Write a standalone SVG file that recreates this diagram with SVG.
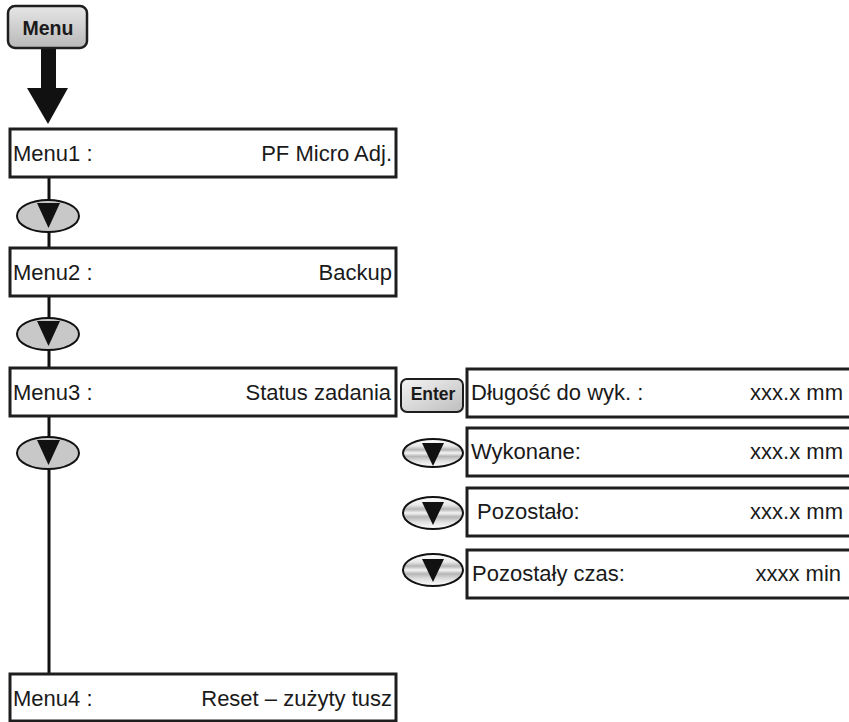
<svg xmlns="http://www.w3.org/2000/svg" width="849" height="722" viewBox="0 0 849 722">
<style>
.box{fill:#fff;stroke:#1e1e1e;stroke-width:3}
.t{font-family:"Liberation Sans",Arial,sans-serif;font-size:22px;fill:#1a1a1a}
.r{text-anchor:end}
.btn{font-family:"Liberation Sans",Arial,sans-serif;font-weight:bold;fill:#1a1a1a;text-anchor:middle}
.ell{fill:#c8c8c8;stroke:#111;stroke-width:2}
.ell2{fill:url(#stripe);stroke:#111;stroke-width:2}
.tri{fill:#111}
.conn{stroke:#111;stroke-width:3;fill:none}
</style>
<defs>
<linearGradient id="btng" x1="0" y1="0" x2="0" y2="1">
<stop offset="0" stop-color="#e6e6e6"/><stop offset="1" stop-color="#b8b8b8"/>
</linearGradient>
<linearGradient id="entg" x1="0" y1="0" x2="1" y2="1">
<stop offset="0" stop-color="#f4f4f4"/><stop offset="1" stop-color="#bdbdbd"/>
</linearGradient>
<linearGradient id="stripe" x1="0" y1="0" x2="0" y2="1">
<stop offset="0" stop-color="#ffffff"/>
<stop offset="0.25" stop-color="#e8e8e8"/>
<stop offset="0.38" stop-color="#b5b5b5"/>
<stop offset="0.5" stop-color="#f4f4f4"/>
<stop offset="0.62" stop-color="#b5b5b5"/>
<stop offset="0.78" stop-color="#e0e0e0"/>
<stop offset="1" stop-color="#ffffff"/>
</linearGradient>
</defs>

<g id="connectors">
<rect x="41" y="48" width="15" height="41" fill="#111"/>
<polygon points="27,88 68,88 48,124" fill="#111"/>
<line class="conn" x1="49" y1="178" x2="49" y2="200"/>
<line class="conn" x1="49" y1="232" x2="49" y2="248"/>
<line class="conn" x1="49" y1="297" x2="49" y2="318"/>
<line class="conn" x1="49" y1="350" x2="49" y2="368"/>
<line class="conn" x1="49" y1="417" x2="49" y2="437"/>
<line class="conn" x1="49" y1="469" x2="49" y2="674"/>
</g>

<g id="menu-button">
<rect x="8" y="6" width="79" height="42" rx="7" fill="url(#btng)" stroke="#1e1e1e" stroke-width="2.5"/>
<text class="btn" x="48" y="35" font-size="19.5">Menu</text>
</g>

<g id="menu1">
<rect class="box" x="10" y="129" width="386" height="48"/>
<text class="t" x="13" y="161">Menu1 :</text>
<text class="t r" x="392" y="161">PF Micro Adj.</text>
</g>

<g id="down1">
<ellipse class="ell" cx="48" cy="216" rx="31" ry="16"/>
<polygon class="tri" points="37,203 60,203 48.5,228"/>
</g>

<g id="menu2">
<rect class="box" x="10" y="248" width="386" height="48"/>
<text class="t" x="13" y="280">Menu2 :</text>
<text class="t r" x="392" y="280">Backup</text>
</g>

<g id="down2">
<ellipse class="ell" cx="48" cy="334" rx="31" ry="16"/>
<polygon class="tri" points="37,321 60,321 48.5,346"/>
</g>

<g id="menu3">
<rect class="box" x="10" y="368" width="386" height="48"/>
<text class="t" x="13" y="400">Menu3 :</text>
<text class="t r" x="391" y="400">Status zadania</text>
</g>

<g id="down3">
<ellipse class="ell" cx="48" cy="453" rx="31" ry="16"/>
<polygon class="tri" points="37,440 60,440 48.5,465"/>
</g>

<g id="menu4">
<rect class="box" x="10" y="674" width="386" height="47"/>
<text class="t" x="13" y="706">Menu4 :</text>
<text class="t r" x="392" y="706">Reset – zużyty tusz</text>
</g>

<g id="enter-button">
<rect x="401" y="379" width="62" height="33" rx="6" fill="url(#entg)" stroke="#1e1e1e" stroke-width="2"/>
<text class="btn" x="433" y="400" font-size="17.5">Enter</text>
</g>

<g id="sub1">
<rect class="box" x="467" y="369" width="400" height="48"/>
<text class="t" x="471" y="400">Długość do wyk. :</text>
<text class="t r" x="843" y="400">xxx.x mm</text>
</g>

<g id="down-sub1">
<ellipse class="ell2" cx="433" cy="453" rx="30" ry="14"/>
<polygon class="tri" points="422,443 444,443 433,466"/>
</g>

<g id="sub2">
<rect class="box" x="467" y="428" width="400" height="48"/>
<text class="t" x="471" y="459">Wykonane:</text>
<text class="t r" x="843" y="459">xxx.x mm</text>
</g>

<g id="down-sub2">
<ellipse class="ell2" cx="433" cy="513" rx="30" ry="16"/>
<polygon class="tri" points="422,502 444,502 433,525"/>
</g>

<g id="sub3">
<rect class="box" x="467" y="488" width="400" height="48"/>
<text class="t" x="477" y="519">Pozostało:</text>
<text class="t r" x="843" y="519">xxx.x mm</text>
</g>

<g id="down-sub3">
<ellipse class="ell2" cx="433" cy="570" rx="30" ry="16"/>
<polygon class="tri" points="422,559 444,559 433,582"/>
</g>

<g id="sub4">
<rect class="box" x="467" y="550" width="400" height="48"/>
<text class="t" x="472" y="581">Pozostały czas:</text>
<text class="t r" x="841" y="581">xxxx min</text>
</g>
</svg>
